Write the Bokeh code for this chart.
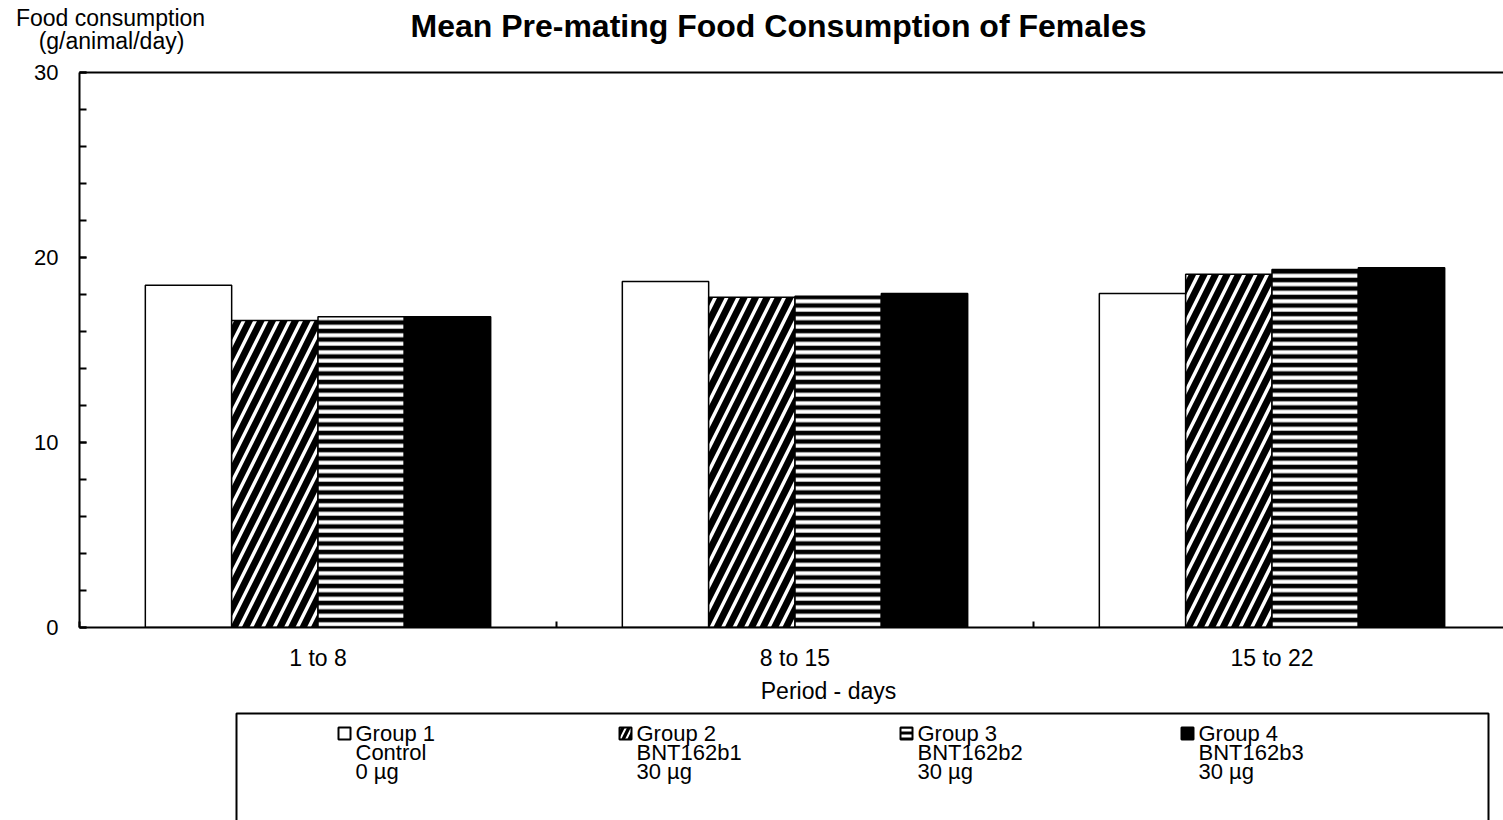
from bokeh.plotting import figure
from bokeh.models import Range1d, FixedTicker, SingleIntervalTicker, LinearAxis
from bokeh.layouts import column
from bokeh.embed import file_html
from bokeh.resources import INLINE
from bokeh.core.properties import value

# ---------------- data ----------------
periods = ["1 to 8", "8 to 15", "15 to 22"]
group_names = ["Group 1", "Group 2", "Group 3", "Group 4"]
treatments = ["Control", "BNT162b1", "BNT162b2", "BNT162b3"]
doses = ["0 µg", "30 µg", "30 µg", "30 µg"]
group1 = [18.5, 18.7, 18.05]
group2 = [16.6, 17.85, 19.1]
group3 = [16.8, 17.9, 19.35]
group4 = [16.8, 18.05, 19.45]
title_text = "Mean Pre-mating Food Consumption of Females"
y_title = ["Food consumption", "(g/animal/day)"]
x_title = "Period - days"

FONT = "Liberation Sans"
W = 1503
LEFT = 79          # left border of the plot frame (all figures in the column share it)
H_HEAD = 58
H_MAIN = 617
H_LEG = 145


def blank(height):
    f = figure(width=W, height=height, output_backend="svg", toolbar_location=None,
               x_range=Range1d(LEFT, W), y_range=Range1d(height, 0),
               x_axis_location=None, y_axis_location=None,
               min_border_left=LEFT, min_border_right=0, min_border_top=0, min_border_bottom=0,
               outline_line_color=None)
    f.grid.visible = False
    return f


# ---------------- header (title + y-axis title) ----------------
head = blank(H_HEAD)
head.text(x=[778], y=[25], text=[title_text], text_font=value(FONT), text_font_size="32px",
          text_font_style="bold", text_align="center", text_baseline="alphabetic",
          text_color="black", level="overlay")
head.text(x=[110, 111], y=[17, 40], text=y_title, text_font=value(FONT), text_font_size="23px",
          text_align="center", text_baseline="middle", text_color="black", level="overlay")

# ---------------- main chart ----------------
p = figure(width=W, height=H_MAIN, output_backend="svg", toolbar_location=None,
           x_range=Range1d(0.5, 0.5 + (W - LEFT) / 477), y_range=Range1d(0, 30),
           min_border_left=LEFT, min_border_right=0, min_border_top=14, min_border_bottom=48,
           outline_line_color=None, background_fill_color="white", border_fill_color="white")
p.grid.visible = False

xa = p.xaxis[0]
xa.ticker = FixedTicker(ticks=[1, 2, 3], minor_ticks=[0.5, 1.5, 2.5, 3.5])
xa.major_label_overrides = {i + 1: lab for i, lab in enumerate(periods)}
xa.major_tick_in = 0
xa.major_tick_out = 0
xa.minor_tick_in = 6
xa.minor_tick_out = 0
xa.minor_tick_line_width = 2
xa.axis_line_width = 2
xa.major_label_standoff = 17
xa.major_label_text_font = FONT
xa.major_label_text_font_size = "23px"
xa.major_label_text_color = "black"

ya = p.yaxis[0]
ya.ticker = SingleIntervalTicker(interval=10, num_minor_ticks=5)
ya.major_tick_in = 7
ya.major_tick_out = 0
ya.minor_tick_in = 7
ya.minor_tick_out = 0
ya.major_tick_line_width = 2
ya.minor_tick_line_width = 2
ya.axis_line_width = 2
ya.major_label_standoff = 21
ya.major_label_text_font = FONT
ya.major_label_text_font_size = "22px"
ya.major_label_text_color = "black"

top_axis = LinearAxis(ticker=FixedTicker(ticks=[]), major_label_text_font_size="0px",
                      axis_line_width=2, major_tick_line_color=None, minor_tick_line_color=None)
p.add_layout(top_axis, "above")

w = 0.181
idx = [1, 2, 3]
series = [group1, group2, group3, group4]
offsets = [-1.5 * w, -0.5 * w, 0.5 * w, 1.5 * w]
styles = [
    dict(fill_color="white"),
    dict(fill_color="black", hatch_pattern="/", hatch_color="white", hatch_weight=3.5, hatch_scale=23),
    dict(fill_color="black", hatch_pattern="-", hatch_color="white", hatch_weight=4, hatch_scale=8.5),
    dict(fill_color="black"),
]
for vals, off, st in zip(series, offsets, styles):
    p.vbar(x=[i + off for i in idx], top=vals, bottom=0, width=w,
           line_color="black", line_width=1.5, **st)

# ---------------- x-axis title + legend ----------------
leg = blank(H_LEG)
leg.text(x=[828], y=[15], text=[x_title], text_font=value(FONT), text_font_size="23px",
         text_align="center", text_baseline="middle", text_color="black")
leg.quad(left=[236], right=[1488], top=[38], bottom=[H_LEG + 10],
         fill_color=None, line_color="black", line_width=2)

col_x = [338, 619, 900, 1181]
rows_y = [58, 77, 96]
msize = 12
marker_styles = [
    dict(fill_color="white"),
    dict(fill_color="black", hatch_pattern="/", hatch_color="white", hatch_weight=2, hatch_scale=12),
    dict(fill_color="white", hatch_pattern="-", hatch_color="black", hatch_weight=3, hatch_scale=6),
    dict(fill_color="black"),
]
for cx, st in zip(col_x, marker_styles):
    leg.quad(left=[cx], right=[cx + msize], top=[rows_y[0] - msize / 2],
             bottom=[rows_y[0] + msize / 2], line_color="black", line_width=2, **st)
tx = [c + 17 for c in col_x]
for row, texts in zip(rows_y, [group_names, treatments, doses]):
    leg.text(x=tx, y=[row] * len(tx), text=texts, text_font=value(FONT), text_font_size="22px",
             text_baseline="middle", text_align="left", text_color="black")

layout = column(head, p, leg, spacing=0)
open("out.html", "w").write(file_html(layout, INLINE))
